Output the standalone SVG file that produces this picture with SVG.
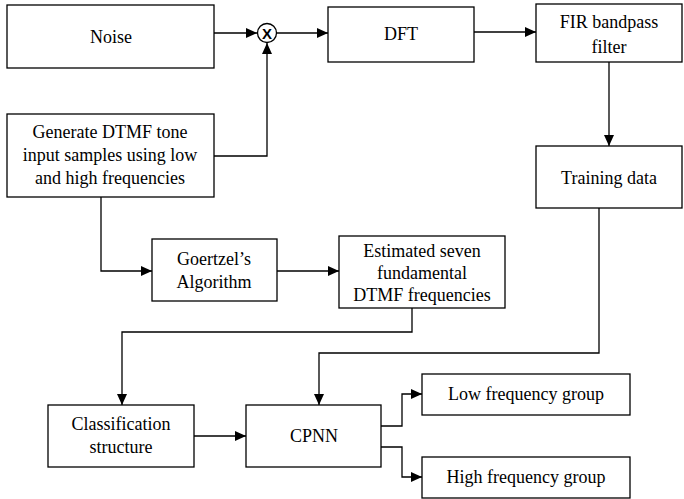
<svg xmlns="http://www.w3.org/2000/svg" width="684" height="499" viewBox="0 0 684 499">
<defs>
<marker id="arr" markerUnits="userSpaceOnUse" markerWidth="12" markerHeight="10" refX="11" refY="5" orient="auto">
<path d="M0,0 L11,5 L0,10 Z" fill="#000"/>
</marker>
<style>
.box{fill:#fff;stroke:#000;stroke-width:1.3}
.t{font-family:'Liberation Serif','Times New Roman','DejaVu Serif',serif;font-size:18px;fill:#000;text-anchor:middle}
.c{fill:none;stroke:#000;stroke-width:1.3;marker-end:url(#arr)}
</style>
</defs>
<rect width="684" height="499" fill="#fff"/>
<g id="connectors">
<path class="c" d="M214,33 H257"/>
<path class="c" d="M214,156 H267 V43"/>
<path class="c" d="M277,33 H328"/>
<path class="c" d="M474,32 H536"/>
<path class="c" d="M609,62 V146"/>
<path class="c" d="M101,197 V271 H152"/>
<path class="c" d="M277,271 H339"/>
<path class="c" d="M412,308 V332 H122 V405"/>
<path class="c" d="M599,208 V353 H319 V405"/>
<path class="c" d="M194,436 H246"/>
<path class="c" d="M381,426 H402 V394 H422"/>
<path class="c" d="M381,447 H402 V477 H422"/>
</g>
<g id="mult">
<circle cx="267" cy="33" r="9.5" fill="#fff" stroke="#000" stroke-width="1.3"/>
<text x="267" y="38.5" font-family="Liberation Sans, Arial, sans-serif" font-size="15" font-weight="bold" text-anchor="middle">X</text>
</g>
<g id="noise"><rect class="box" x="7" y="5" width="207" height="63"/><text class="t" x="111" y="43">Noise</text></g>
<g id="dft"><rect class="box" x="328" y="7" width="146" height="55"/><text class="t" x="401" y="40">DFT</text></g>
<g id="fir"><rect class="box" x="536" y="4" width="146" height="58"/><text class="t" x="609" y="28">FIR bandpass</text><text class="t" x="609" y="53">filter</text></g>
<g id="generate"><rect class="box" x="7" y="114" width="207" height="83"/><text class="t" x="110" y="138">Generate DTMF tone</text><text class="t" x="110" y="161">input samples using low</text><text class="t" x="110" y="184">and high frequencies</text></g>
<g id="training"><rect class="box" x="536" y="146" width="146" height="62"/><text class="t" x="609" y="184">Training data</text></g>
<g id="goertzel"><rect class="box" x="152" y="239" width="125" height="62"/><text class="t" x="214" y="265">Goertzel’s</text><text class="t" x="214" y="288">Algorithm</text></g>
<g id="estimated"><rect class="box" x="339" y="236" width="166" height="72"/><text class="t" x="422" y="257">Estimated seven</text><text class="t" x="422" y="279">fundamental</text><text class="t" x="422" y="301">DTMF frequencies</text></g>
<g id="classification"><rect class="box" x="48" y="405" width="146" height="62"/><text class="t" x="121" y="430">Classification</text><text class="t" x="121" y="453">structure</text></g>
<g id="cpnn"><rect class="box" x="246" y="405" width="135" height="62"/><text class="t" x="314" y="442">CPNN</text></g>
<g id="low"><rect class="box" x="422" y="374" width="208" height="41"/><text class="t" x="526" y="400">Low frequency group</text></g>
<g id="high"><rect class="box" x="422" y="457" width="208" height="41"/><text class="t" x="526" y="483">High frequency group</text></g>
</svg>
